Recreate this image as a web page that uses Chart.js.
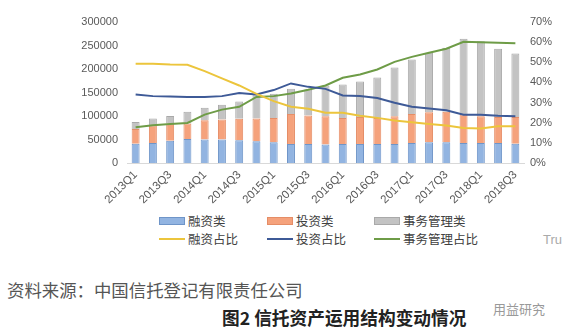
<!DOCTYPE html>
<html>
<head>
<meta charset="utf-8">
<script src="https://cdn.jsdelivr.net/npm/chart.js@4/dist/chart.umd.min.js"></script>
<style>
  body { margin: 0; background: #fff; }
  #wrap { position: relative; width: 567px; height: 334px; background: #fff; overflow: hidden;
          font-family: "Noto Sans CJK SC", "Noto Sans", sans-serif; }
  #chart-box { position: absolute; left: 0; top: 0; width: 567px; height: 210px; }
  .legend-item { position: absolute; display: flex; align-items: center; font-size: 12.5px; color: #404040; line-height: 1; white-space: nowrap; }
  .legend-item .mark { width: 26px; margin-right: 3px; box-sizing: border-box; }
  .note { position: absolute; line-height: 1; white-space: nowrap; }
</style>
</head>
<body>
<div id="wrap">
  <div id="chart-box"><canvas id="trust-chart" width="567" height="210"></canvas></div>
  <div id="legend"></div>
  <div class="note" style="left:7px; top:281px; font-size:17.4px; color:#555;">资料来源：中国信托登记有限责任公司</div>
  <div class="note" style="left:222px; top:309px; font-size:17.7px; font-weight:bold; color:#222;">图2 信托资产运用结构变动情况</div>
  <div class="note" style="left:543px; top:233px; font-size:13px; color:#aaa; font-family:'Liberation Sans', sans-serif;">Tru</div>
  <div class="note" style="left:493px; top:302px; font-size:13px; color:#999;">用益研究</div>
</div>
<script>
const quarters = ['2013Q1', '2013Q2', '2013Q3', '2013Q4', '2014Q1', '2014Q2', '2014Q3', '2014Q4',
    '2015Q1', '2015Q2', '2015Q3', '2015Q4', '2016Q1', '2016Q2', '2016Q3', '2016Q4',
    '2017Q1', '2017Q2', '2017Q3', '2017Q4', '2018Q1', '2018Q2', '2018Q3'];

// bar segments (亿元, stacked)
const financing = [41200, 42700, 47600, 51200, 49800, 49800, 48300, 46200, 44100, 40500, 40500, 39100,
    40500, 40500, 40500, 40500, 42700, 44100, 44100, 42700, 42700, 42700, 41200];
const investment = [31300, 36900, 36400, 32800, 41200, 42600, 45600, 48400, 51900, 64000, 60500, 60400,
    55500, 57600, 55500, 59000, 61800, 64000, 64700, 60400, 56800, 55400, 56900];
const management = [15000, 15000, 16250, 24800, 26300, 31300, 36900, 51200, 51200, 53300, 55400, 65500,
    71100, 75400, 86000, 103800, 115900, 126500, 136500, 161400, 159300, 145100, 135100];

// shares (%) on right axis
const financingShare = [49.3, 49.3, 48.9, 48.8, 45.6, 42.0, 38.5, 34.3, 30.7, 27.9, 26.9, 24.9,
    24.9, 23.5, 22.4, 21.1, 20.2, 19.4, 18.6, 17.4, 17.1, 18.2, 18.2];
const investmentShare = [34.0, 33.2, 33.0, 32.8, 32.8, 33.2, 34.8, 34.0, 36.2, 39.5, 37.8, 36.8,
    33.5, 33.3, 32.3, 29.9, 27.9, 27.0, 26.2, 24.0, 24.0, 23.4, 23.2];
const managementShare = [17.7, 18.7, 19.4, 19.9, 24.0, 26.5, 27.9, 32.8, 33.2, 34.5, 36.4, 38.5,
    42.3, 43.9, 46.4, 50.2, 52.7, 54.7, 56.7, 60.2, 60.0, 59.7, 59.4];

const leftTicks = [0, 50000, 100000, 150000, 200000, 250000, 300000];
const rightTicks = [0, 10, 20, 30, 40, 50, 60, 70];

const tickFont = { family: "'Liberation Sans', Arial, sans-serif", size: 11 };
const tickColor = '#595959';

function barSet(label, data, fill, border) {
    return {
        type: 'bar', label: label, data: data, yAxisID: 'y', order: 2,
        backgroundColor: fill, borderColor: border, borderWidth: 1,
        barPercentage: 0.46, categoryPercentage: 1.0
    };
}

function lineSet(label, data, color) {
    return {
        type: 'line', label: label, data: data, yAxisID: 'y1', order: 1,
        borderColor: color, backgroundColor: color, borderWidth: 2,
        pointRadius: 0, tension: 0, fill: false
    };
}

const datasets = [
    barSet('融资类', financing, '#92b4e1', '#6f95c8'),
    barSet('投资类', investment, '#f5a27c', '#e58d66'),
    barSet('事务管理类', management, '#c3c3c3', '#a9a9a9'),
    lineSet('融资占比', financingShare, '#ecc53c'),
    lineSet('投资占比', investmentShare, '#3e5a97'),
    lineSet('事务管理占比', managementShare, '#6e9c47')
];

const chart = new Chart(document.getElementById('trust-chart').getContext('2d'), {
    data: { labels: quarters, datasets: datasets },
    options: {
        responsive: false,
        animation: false,
        devicePixelRatio: 1,
        layout: { padding: { top: 22, left: 0, right: 0, bottom: 0 } },
        plugins: { legend: { display: false }, tooltip: { enabled: false } },
        scales: {
            x: {
                stacked: true,
                grid: { display: false, drawTicks: false },
                border: { display: true, color: '#d9d9d9', width: 1 },
                ticks: {
                    autoSkip: false, minRotation: 45, maxRotation: 45, padding: 5,
                    color: tickColor, font: { family: tickFont.family, size: 11.5 },
                    callback: (v, i) => (i % 2 === 0 ? quarters[i] : '')
                },
                afterFit: s => { s.height = 47; }
            },
            y: {
                stacked: true, position: 'left', min: 0, max: 300000,
                grid: { display: false, drawTicks: false },
                border: { display: false },
                afterBuildTicks: s => { s.ticks = leftTicks.map(v => ({ value: v })); },
                ticks: { padding: 9, color: tickColor, font: tickFont, callback: v => String(v) },
                afterFit: s => { s.width = 127; }
            },
            y1: {
                position: 'right', min: 0, max: 70,
                grid: { display: false, drawTicks: false },
                border: { display: false },
                afterBuildTicks: s => { s.ticks = rightTicks.map(v => ({ value: v })); },
                ticks: { padding: 6, color: tickColor, font: tickFont, callback: v => v + '%' },
                afterFit: s => { s.width = 43; }
            }
        }
    }
});

// HTML legend, 3 columns x 2 rows as in the original
const legendCols = [159, 267, 374];
const legendRows = [221, 239];
const legend = document.getElementById('legend');
chart.data.datasets.forEach((ds, i) => {
    const item = document.createElement('div');
    item.className = 'legend-item';
    item.style.left = legendCols[i % 3] + 'px';
    item.style.top = (legendRows[Math.floor(i / 3)] - 7) + 'px';
    item.style.height = '14px';
    const mark = document.createElement('span');
    mark.className = 'mark';
    if (ds.type === 'bar') {
        mark.style.height = '8px';
        mark.style.background = ds.backgroundColor;
        mark.style.border = '1px solid ' + ds.borderColor;
    } else {
        mark.style.height = '2px';
        mark.style.background = ds.borderColor;
    }
    item.appendChild(mark);
    item.appendChild(document.createTextNode(ds.label));
    legend.appendChild(item);
});
</script>
</body>
</html>
